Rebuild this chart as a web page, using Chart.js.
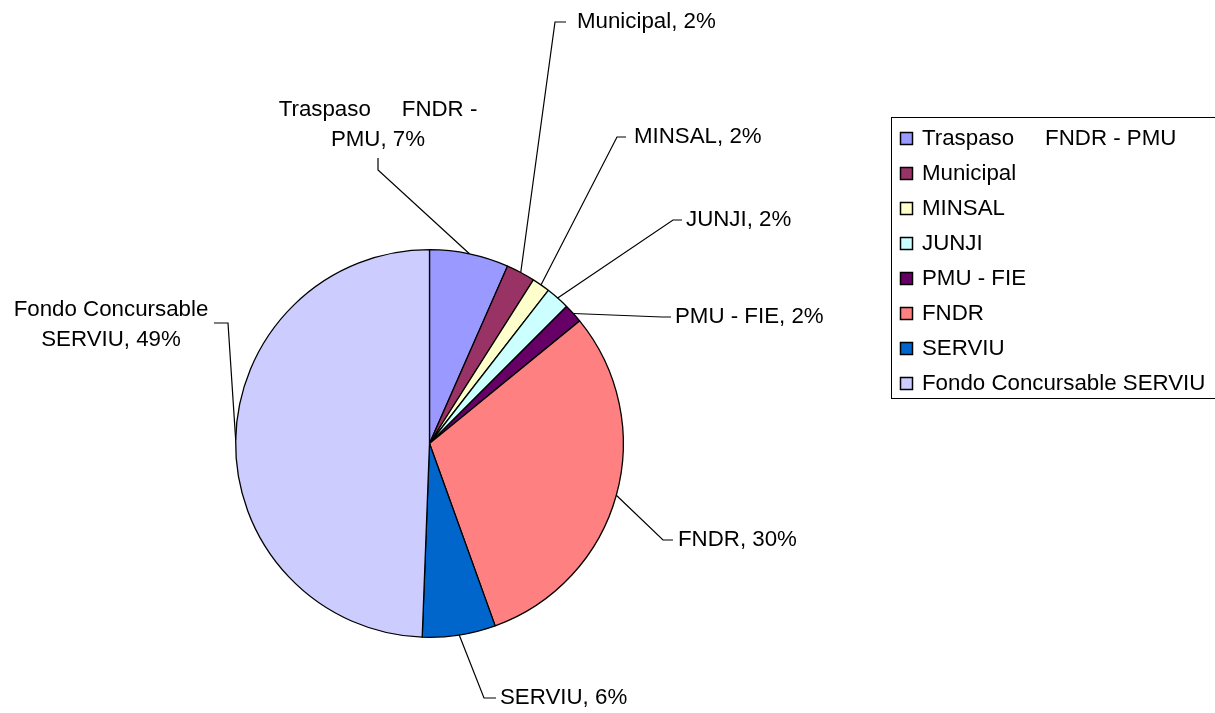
<!DOCTYPE html>
<html>
<head>
<meta charset="utf-8">
<script src="https://cdn.jsdelivr.net/npm/chart.js@4.4.1/dist/chart.umd.min.js"></script>
<style>
  html, body { margin: 0; padding: 0; background: #fff; }
</style>
</head>
<body>
<canvas id="grafica" width="1215" height="713"></canvas>
<script>
// datos del gráfico
const categorias = ['Traspaso     FNDR - PMU', 'Municipal', 'MINSAL', 'JUNJI', 'PMU - FIE', 'FNDR', 'SERVIU', 'Fondo Concursable SERVIU'];
const valores = [6.6, 2.4, 1.5, 2.0, 1.6, 30.4, 6.1, 49.4];
const colores = ['#9999FF', '#993366', '#FFFFCC', '#CCFFFF', '#660066', '#FF8080', '#0066CC', '#CCCCFF'];

// posición de cada etiqueta y su línea guía (solo diseño)
const etiquetas = [
    { x: 378, y: 110, align: 'center', wrap: 210, guia: [[378, 170], [378, 158]] },
    { x: 577, y: 22, align: 'left', wrap: Infinity, guia: [[555, 22], [566, 22]] },
    { x: 634, y: 137, align: 'left', wrap: Infinity, guia: [[617, 137], [626, 137]] },
    { x: 686, y: 220, align: 'left', wrap: Infinity, guia: [[673, 220], [682, 220]] },
    { x: 675, y: 317, align: 'left', wrap: Infinity, guia: [[662, 317], [671, 317]] },
    { x: 678, y: 540, align: 'left', wrap: Infinity, guia: [[663, 540], [673, 540]] },
    { x: 500, y: 698, align: 'left', wrap: Infinity, guia: [[484, 698], [496, 698]] },
    { x: 111, y: 310, align: 'center', wrap: 210, guia: [[228, 323], [214, 323]] }
];

const FUENTE = '22.3px "Liberation Sans", Arial, sans-serif';
const ALTO_LINEA = 30;

function partirTexto(ctx, texto, maxAncho) {
    const piezas = texto.split(/(\s+)/);
    const lineas = [];
    let actual = '';
    for (const p of piezas) {
        if (!p) continue;
        const prueba = actual + p;
        if (actual.trim() && !/^\s+$/.test(p) && ctx.measureText(prueba).width > maxAncho) {
            lineas.push(actual.trim());
            actual = p;
        } else {
            actual = prueba;
        }
    }
    if (actual.trim()) lineas.push(actual.trim());
    return lineas;
}

// etiquetas con líneas guía
const pluginEtiquetas = {
    id: 'etiquetas',
    afterDatasetsDraw(chart) {
        const ctx = chart.ctx;
        const meta = chart.getDatasetMeta(0);
        const datos = chart.data.datasets[0].data;
        const total = datos.reduce((a, b) => a + b, 0);
        ctx.save();
        ctx.font = FUENTE;
        ctx.fillStyle = '#000';
        ctx.strokeStyle = '#000';
        ctx.lineWidth = 1.2;
        meta.data.forEach((arc, i) => {
            const lay = etiquetas[i];
            const ang = (arc.startAngle + arc.endAngle) / 2;
            const x0 = arc.x + Math.cos(ang) * arc.outerRadius;
            const y0 = arc.y + Math.sin(ang) * arc.outerRadius;
            ctx.beginPath();
            ctx.moveTo(x0, y0);
            lay.guia.forEach(p => ctx.lineTo(p[0], p[1]));
            ctx.stroke();

            const pct = Math.round(datos[i] / total * 100);
            const texto = chart.data.labels[i] + ', ' + pct + '%';
            const lineas = partirTexto(ctx, texto, lay.wrap);
            ctx.textAlign = lay.align;
            ctx.textBaseline = 'middle';
            lineas.forEach((l, k) => ctx.fillText(l, lay.x, lay.y + k * ALTO_LINEA));
        });
        ctx.restore();
    }
};

// leyenda con marco
const pluginLeyenda = {
    id: 'leyendaMarco',
    afterDraw(chart) {
        const ctx = chart.ctx;
        const bg = chart.data.datasets[0].backgroundColor;
        ctx.save();
        ctx.strokeStyle = '#000';
        ctx.lineWidth = 1;
        ctx.strokeRect(891.5, 117.5, 340, 281);
        ctx.font = FUENTE;
        ctx.textAlign = 'left';
        ctx.textBaseline = 'middle';
        chart.data.labels.forEach((lab, i) => {
            const y = 138 + i * 35;
            ctx.fillStyle = bg[i];
            ctx.fillRect(900, y - 6, 13, 13);
            ctx.lineWidth = 1.5;
            ctx.strokeRect(900.5, y - 5.5, 12, 12);
            ctx.fillStyle = '#000';
            ctx.fillText(lab, 922, y + 1);
        });
        ctx.restore();
    }
};

new Chart(document.getElementById('grafica'), {
    type: 'pie',
    data: {
        labels: categorias,
        datasets: [{
            data: valores,
            backgroundColor: colores,
            borderColor: '#000',
            borderWidth: 1.3
        }]
    },
    options: {
        responsive: false,
        animation: false,
        layout: { padding: { top: 249, bottom: 75, left: 235, right: 591 } },
        plugins: {
            legend: { display: false },
            tooltip: { enabled: false }
        }
    },
    plugins: [pluginEtiquetas, pluginLeyenda]
});
</script>
</body>
</html>
